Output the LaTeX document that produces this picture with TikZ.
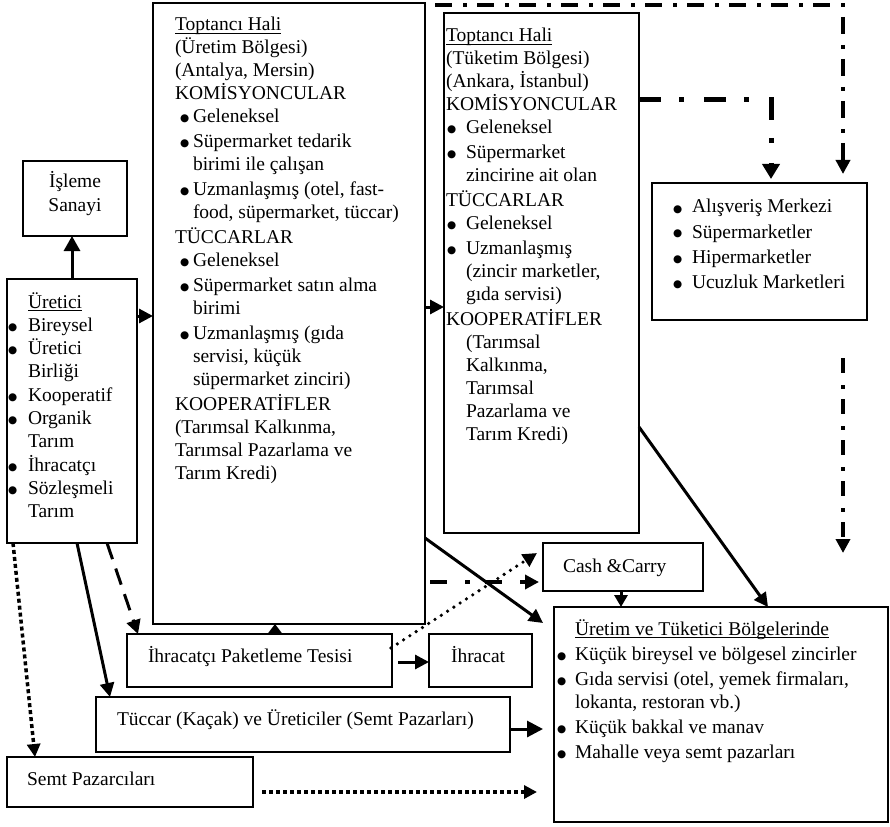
\documentclass[tikz,border=0pt]{standalone}
\usepackage{fontspec}
\setmainfont{Liberation Serif}
\newfontfamily\djv{DejaVu Sans}
\usetikzlibrary{arrows.meta,calc}
\newcommand\ulx[1]{\setbox0\hbox{#1}\rlap{\rule[-2.6pt]{\wd0}{0.9pt}}\box0}
\newcommand\sbul{\raisebox{1pt}{\djv\fontsize{10.5}{10.5}\selectfont ●}}
\newcommand\itm[2]{\rlap{\hspace*{#1pt}\sbul}\hspace*{#2pt}}
\tikzset{
  box/.style={draw, line width=1.8pt, fill=white, rectangle, inner sep=0pt, outer sep=0pt, anchor=north west},
  txt/.style={inner sep=0pt, outer sep=0pt, anchor=base west, font=\fontsize{19.5}{23}\selectfont},
  arrtip/.style={-{Triangle[length=14pt,width=14pt]}},
  solidarr/.style={arrtip, line width=3pt},
  dd1/.style={arrtip, line width=4pt, dash pattern=on 17pt off 11pt on 4pt off 10pt},
  dd2/.style={-{Triangle[length=15pt,width=17pt]}, line width=5pt, dash pattern=on 22pt off 18pt on 5pt off 20pt},
  dd3/.style={arrtip, line width=4pt, dash pattern=on 15pt off 12pt on 4pt off 10pt},
  dd4/.style={arrtip, line width=4pt, dash pattern=on 17pt off 18pt on 5pt off 15pt},
  longdash/.style={arrtip, line width=3pt, dash pattern=on 17pt off 10pt},
  sqdot/.style={-{Triangle[length=13pt,width=13pt]}, line width=3.5pt, dash pattern=on 4pt off 3pt},
  rdot/.style={arrtip, line width=3.6pt, line cap=round, dash pattern=on 0pt off 7.5pt},
}
\begin{document}
\begin{tikzpicture}[x=1pt,y=-1pt]
\useasboundingbox[fill=white] (0,0) rectangle (890,826);
% boxes
\node[box, minimum width=272, minimum height=621] (box1) at (153,3) {};
\node[box, minimum width=195, minimum height=520] (box2) at (444,13) {};
\node[box, minimum width=215, minimum height=137] (store) at (652,183) {};
\node[box, minimum width=130, minimum height=264] (uretici) at (7,279) {};
\node[box, minimum width=104, minimum height=75] (isleme) at (23,161) {};
\node[box, minimum width=265, minimum height=53] (paket) at (127,634) {};
\node[box, minimum width=103, minimum height=53] (ihracat) at (429,634) {};
\node[box, minimum width=160, minimum height=48] (cash) at (543,543) {};
\node[box, minimum width=334, minimum height=215] (perak) at (554,607) {};
\node[box, minimum width=414, minimum height=55] (tuccar) at (96,697) {};
\node[box, minimum width=246, minimum height=50] (semt) at (7,757) {};
% texts
\node[txt] (t1) at (175,31) {\begin{tabular}[t]{@{}l@{}}
\ulx{Toptancı Hali}\\
(Üretim Bölgesi)\\
(Antalya, Mersin)\\
KOMİSYONCULAR\\
\itm{5}{18}Geleneksel\\[2pt]
\itm{5}{18}Süpermarket tedarik\\
\hspace*{18pt}birimi ile çalışan\\[2pt]
\itm{5}{18}Uzmanlaşmış (otel, fast-\\
\hspace*{18pt}food, süpermarket, tüccar)\\[2pt]
TÜCCARLAR\\
\itm{5}{18}Geleneksel\\[2pt]
\itm{5}{18}Süpermarket satın alma\\
\hspace*{18pt}birimi\\[2pt]
\itm{5}{18}Uzmanlaşmış (gıda\\
\hspace*{18pt}servisi, küçük\\
\hspace*{18pt}süpermarket zinciri)\\[2pt]
KOOPERATİFLER\\
(Tarımsal Kalkınma,\\
Tarımsal Pazarlama ve\\
Tarım Kredi)
\end{tabular}};
\node[txt] (t2) at (446,42) {\begin{tabular}[t]{@{}l@{}}
\ulx{Toptancı Hali}\\
(Tüketim Bölgesi)\\
(Ankara, İstanbul)\\
KOMİSYONCULAR\\
\itm{1}{20}Geleneksel\\[2pt]
\itm{1}{20}Süpermarket\\
\hspace*{20pt}zincirine ait olan\\[2pt]
TÜCCARLAR\\
\itm{1}{20}Geleneksel\\[2pt]
\itm{1}{20}Uzmanlaşmış\\
\hspace*{20pt}(zincir marketler,\\
\hspace*{20pt}gıda servisi)\\[2pt]
KOOPERATİFLER\\
\hspace*{20pt}(Tarımsal\\
\hspace*{20pt}Kalkınma,\\
\hspace*{20pt}Tarımsal\\
\hspace*{20pt}Pazarlama ve\\
\hspace*{20pt}Tarım Kredi)
\end{tabular}};
\node[txt] (t3) at (676,213) {\begin{tabular}[t]{@{}l@{}}
\itm{-3}{16}Alışveriş Merkezi\\[2pt]
\itm{-3}{16}Süpermarketler\\[2pt]
\itm{-3}{16}Hipermarketler\\[2pt]
\itm{-3}{16}Ucuzluk Marketleri
\end{tabular}};
\node[txt, font=\fontsize{19.5}{23.3}\selectfont] (t4) at (28,308) {\begin{tabular}[t]{@{}l@{}}
\ulx{Üretici}\\
\itm{-20}{0}Bireysel\\
\itm{-20}{0}Üretici\\
Birliği\\
\itm{-20}{0}Kooperatif\\
\itm{-20}{0}Organik\\
Tarım\\
\itm{-20}{0}İhracatçı\\
\itm{-20}{0}Sözleşmeli\\
Tarım
\end{tabular}};
\node[txt, font=\fontsize{19.5}{24}\selectfont, anchor=base] (t5) at (75,188) {\begin{tabular}[t]{@{}c@{}}
İşleme\\ Sanayi
\end{tabular}};
\node[txt] (t6) at (575,635) {\begin{tabular}[t]{@{}l@{}}
\ulx{Üretim ve Tüketici Bölgelerinde}\\[2pt]
\itm{-18}{0}Küçük bireysel ve bölgesel zincirler\\[2pt]
\itm{-18}{0}Gıda servisi (otel, yemek firmaları,\\
lokanta, restoran vb.)\\[2pt]
\itm{-18}{0}Küçük bakkal ve manav\\[2pt]
\itm{-18}{0}Mahalle veya semt pazarları
\end{tabular}};
\node[txt] (t7) at (563,572) {Cash \&Carry};
\node[txt] (t8) at (148,662) {İhracatçı Paketleme Tesisi};
\node[txt] (t9) at (451,662) {İhracat};
\node[txt] (t10) at (117,725) {Tüccar (Kaçak) ve Üreticiler (Semt Pazarları)};
\node[txt] (t11) at (27,785) {Semt Pazarcıları};
% connectors
\draw[solidarr, -{Triangle[length=15pt,width=16pt]}] (uretici.north -| 72,0) -- (isleme.south -| 72,0);
\draw[solidarr] (uretici.east |- 0,316) -- (box1.west |- 0,316);
\draw[solidarr] (box1.east |- 0,307) -- (box2.west |- 0,307);
\draw[dd1] ($(box1.north east)+(10,2)$) -| ($(store.north east)+(-24,-9)$);
\draw[dd2] (box2.east |- 0,100) -| ($(store.north west)+(119,-4)$);
\draw[dd3] ($(store.south east)+(-24,38)$) -- ($(store.south east)+(-24,233)$);
\draw[solidarr] (box2.east |- 0,427) -- (perak.north -| 768,0);
\draw[solidarr] (box1.east |- 0,538) -- ($(perak.north west)+(-11,16)$);
\draw[dd4] ($(box1.east |- 0,582)+(5,0)$) -- ($(cash.west |- 0,582)+(-4,0)$);
\draw[rdot] ($(paket.north east)+(-1,14)$) -- ($(cash.north west)+(-6,10)$);
\draw[solidarr, -{Triangle[length=9pt,width=13pt]}] (paket.north -| 275,0) -- (box1.south -| 275,0);
\draw[solidarr] ($(paket.east |- 0,662)+(6,0)$) -- (ihracat.west |- 0,662);
\draw[solidarr, -{Triangle[length=12pt,width=13pt]}] (cash.south -| 621,0) -- (perak.north -| 621,0);
\draw[solidarr, -{Triangle[length=16pt,width=16pt]}] (tuccar.east |- 0,729) -- ($(perak.west |- 0,729)+(-11,0)$);
\draw[sqdot] ($(semt.east |- 0,792)+(9,0)$) -- ($(perak.west |- 0,792)+(-17,0)$);
\draw[longdash] (uretici.south -| 107,0) -- (paket.north -| 138,0);
\draw[solidarr] (uretici.south -| 77,0) -- (tuccar.north -| 110,0);
\draw[sqdot] (uretici.south -| 13,0) -- (semt.north -| 35,0);
\end{tikzpicture}
\end{document}
